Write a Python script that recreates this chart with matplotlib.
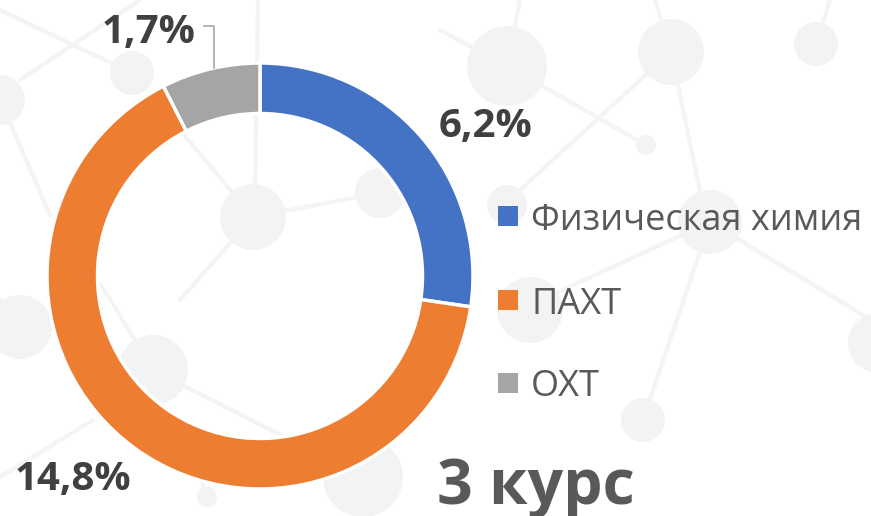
import matplotlib
matplotlib.use("Agg")
import matplotlib.pyplot as plt
from matplotlib.patches import Circle, Rectangle

# ---- data ----
categories = ["Физическая химия", "ПАХТ", "ОХТ"]
values = [6.2, 14.8, 1.7]
colors = ["#4472C4", "#ED7D31", "#A5A5A5"]
title_text = "3 курс"

W, H = 871, 516
plt.rcParams['font.family'] = ['Open Sans', 'DejaVu Sans']

fig = plt.figure(figsize=(W / 100, H / 100), dpi=100)
ax = fig.add_axes([0, 0, 1, 1])
ax.set_facecolor("white")

def Y(y):
    return H - y

# ---- faint molecular background decoration (pixel coords, y from top) ----
bg_lines = [
    ((0, 10), (132, 73)), ((20, 80), (140, 0)), ((0, 100), (50, 215)),
    ((258, 0), (255, 190)), ((180, 130), (253, 217)), ((253, 217), (380, 193)),
    ((440, 30), (507, 66)), ((507, 66), (520, 0)), ((507, 66), (646, 145)),
    ((671, 52), (655, 0)), ((671, 52), (705, 215)), ((671, 52), (520, 190)),
    ((816, 44), (830, 0)), ((710, 222), (643, 420)), ((710, 222), (871, 320)),
    ((710, 222), (530, 305)), ((153, 370), (363, 477)), ((100, 283), (153, 370)),
    ((0, 477), (93, 420)), ((207, 497), (200, 475)), ((0, 300), (20, 327)),
    ((253, 217), (180, 300)),
]
for (x0, y0), (x1, y1) in bg_lines:
    ax.plot([x0, x1], [Y(y0), Y(y1)], color="#f4f4f4", lw=3, zorder=0,
            solid_capstyle="round")

bg_circles = [
    (507, 66, 40), (671, 52, 33), (816, 44, 22), (646, 145, 10),
    (710, 222, 32), (530, 310, 33), (643, 420, 22), (878, 343, 30),
    (132, 73, 22), (0, 100, 25), (253, 217, 33), (380, 193, 25),
    (20, 327, 32), (153, 370, 35), (363, 477, 40), (207, 497, 10),
    (507, 205, 20),
]
for cx, cy, r in bg_circles:
    ax.add_patch(Circle((cx, Y(cy)), r, facecolor="#f3f3f3", edgecolor="none",
                        zorder=0.5))

# ---- donut ----
cx, cy, R, ring = 260, 276, 213, 50.5
wedges, _ = ax.pie(values, colors=colors, startangle=90, counterclock=False,
                   center=(cx, Y(cy)), radius=R,
                   wedgeprops=dict(width=ring, edgecolor="white", linewidth=2.5))
for w in wedges:
    w.set_zorder(2)

# ---- data labels ----
label_pos = [(439, 137), (15, 490), (102, 43)]
for v, (lx, ly) in zip(values, label_pos):
    s = f"{v:.1f}".replace(".", ",") + "%"
    ax.text(lx, Y(ly), s, fontsize=29, fontweight="bold", color="#404040",
            ha="left", va="baseline", zorder=5)

# leader line for the small slice
ax.plot([204, 214, 214], [Y(26), Y(26), Y(68)], color="#a6a6a6", lw=1.2,
        zorder=3)

# ---- legend ----
leg_y = [216, 300, 383]
for cat, col, ly in zip(categories, colors, leg_y):
    ax.add_patch(Rectangle((498, Y(ly) - 10), 20, 20, facecolor=col,
                           edgecolor="none", zorder=5))
    ax.text(531, Y(ly), cat, fontsize=26, color="#595959", ha="left",
            va="center_baseline", zorder=5)

# ---- title ----
ax.text(437, Y(504), title_text, fontsize=45, fontweight="bold",
        color="#595959", ha="left", va="baseline", zorder=5)

ax.set_xlim(0, W)
ax.set_ylim(0, H)
ax.set_aspect("auto")
ax.axis("off")

fig.savefig("out.png", dpi=100, facecolor="white")
